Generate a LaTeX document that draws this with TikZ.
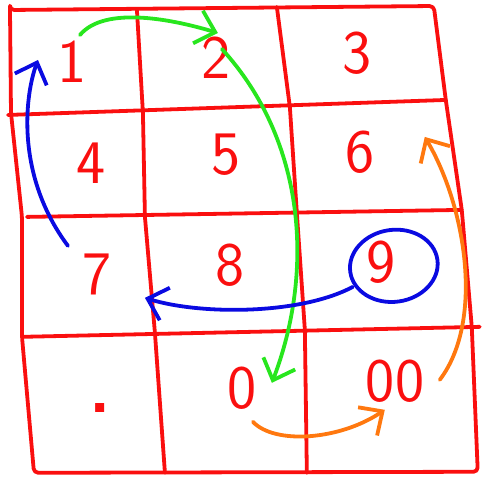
\documentclass[tikz,border=0pt]{standalone}
\usepackage{fontspec}
\usepackage{tikz, tkz-euclide}
\usetikzlibrary{arrows.meta}
\definecolor{penred}{RGB}{250,15,15}
\definecolor{pengreen}{RGB}{40,230,30}
\definecolor{penblue}{RGB}{10,10,225}
\definecolor{penorange}{RGB}{255,120,15}

\begin{document}
\begin{tikzpicture}[scale=0.025,
		grid/.style={penred, line width=2.7pt, line cap=round, line join=round},
		digit/.style={penred, inner sep=0pt, font=\sffamily\fontsize{44}{44}\selectfont},
		stroke/.style={line width=2.7pt, line cap=round, line join=round,
			-{Straight Barb[length=4.5mm,width=8.5mm]}}]
		\useasboundingbox (0,0) rectangle (484,-477);

		% outer frame
		\tkzDefPoint(10,-10){TL}
		\tkzDefPoint(434,-6){TR}
		\tkzDefPoint(446,-100){R1}
		\tkzDefPoint(462,-210){R2}
		\tkzDefPoint(472,-327){R3}
		\tkzDefPoint(478,-472){BR}
		\tkzDefPoint(34,-473){BL}
		\tkzDefPoint(22,-337){L3}
		\tkzDefPoint(22,-217){L2}
		\tkzDefPoint(11,-113){L1}
		\tkzDrawPolygon[grid, rounded corners=3pt](TL,TR,R1,R2,R3,BR,BL,L3,L2,L1)

		% rows
		\tkzDefPoint(8,-115){H1a}  \tkzDefPoint(446,-100){H1b}
		\tkzDefPoint(27,-217){H2a} \tkzDefPoint(462,-210){H2b}
		\tkzDefPoint(22,-337){H3a} \tkzDefPoint(480,-327){H3b}
		\tkzDrawSegment[grid](H1a,H1b)
		\tkzDrawSegment[grid](H2a,H2b)
		\tkzDrawSegment[grid](H3a,H3b)

		% columns
		\tkzDefPoint(137,-10){V10} \tkzDefPoint(143,-113){V11}
		\tkzDefPoint(145,-217){V12} \tkzDefPoint(155,-333){V13}
		\tkzDefPoint(165,-473){V14}
		\tkzDefPoint(277,-7){V20} \tkzDefPoint(290,-107){V21}
		\tkzDefPoint(297,-213){V22} \tkzDefPoint(305,-330){V23}
		\tkzDefPoint(307,-473){V24}
		\tkzDrawPolySeg[grid](V10,V11,V12,V13,V14)
		\tkzDrawPolySeg[grid](V20,V21,V22,V23,V24)

		% keys
		\node[digit] (d1) at (72,-62) {1};
		\node[digit] (d2) at (216,-58) {2};
		\node[digit] (d3) at (357,-53) {3};
		\node[digit] (d4) at (91,-163) {4};
		\node[digit] (d5) at (226,-155) {5};
		\node[digit] (d6) at (360,-152) {6};
		\node[digit] (d7) at (97,-274) {7};
		\node[digit] (d8) at (230,-265) {8};
		\node[digit] (d9) at (381,-262) {9};
		\node[digit, font=\sffamily\fontsize{80}{80}\selectfont] (dot) at (100,-408) {.};
		\node[digit] (d0) at (242,-388) {0};
		\node[digit] (d00) at (395,-381) {00};

		% green moves
		\tkzDefPoint(80,-35){g1}
		\tkzDefPoint(218,-33){g2}
		\tkzDefPoint(222,-49){g3}
		\tkzDefPoint(272,-383){g4}
		\draw[stroke, pengreen] (g1) .. controls (105,-5) and (175,-20) .. (g2);
		\draw[stroke, pengreen] (g3) .. controls (305,-140) and (315,-270) .. (g4);

		% blue moves
		\tkzDefPoint(384,-261){b9}
		\tkzDefPoint(353,-287){b9out}
		\tkzDefPoint(145,-298){b8}
		\tkzDefPoint(68,-246){b7}
		\tkzDefPoint(38,-60){b1}
		\draw[penblue, line width=2.7pt, rotate around={8:(b9)}] (b9) ellipse [x radius=44, y radius=36];
		\draw[stroke, penblue] (b9out) .. controls (300,-315) and (200,-315) .. (b8);
		\draw[stroke, penblue] (b7) .. controls (15,-175) and (25,-95) .. (b1);

		% orange moves
		\tkzDefPoint(253,-422){o0}
		\tkzDefPoint(385,-410){o00}
		\tkzDefPoint(440,-380){o00b}
		\tkzDefPoint(425,-137){o6}
		\draw[stroke, penorange] (o0) .. controls (275,-445) and (340,-440) .. (o00);
		\draw[stroke, penorange] (o00b) .. controls (485,-320) and (465,-205) .. (o6);
	\end{tikzpicture}
\end{document}
